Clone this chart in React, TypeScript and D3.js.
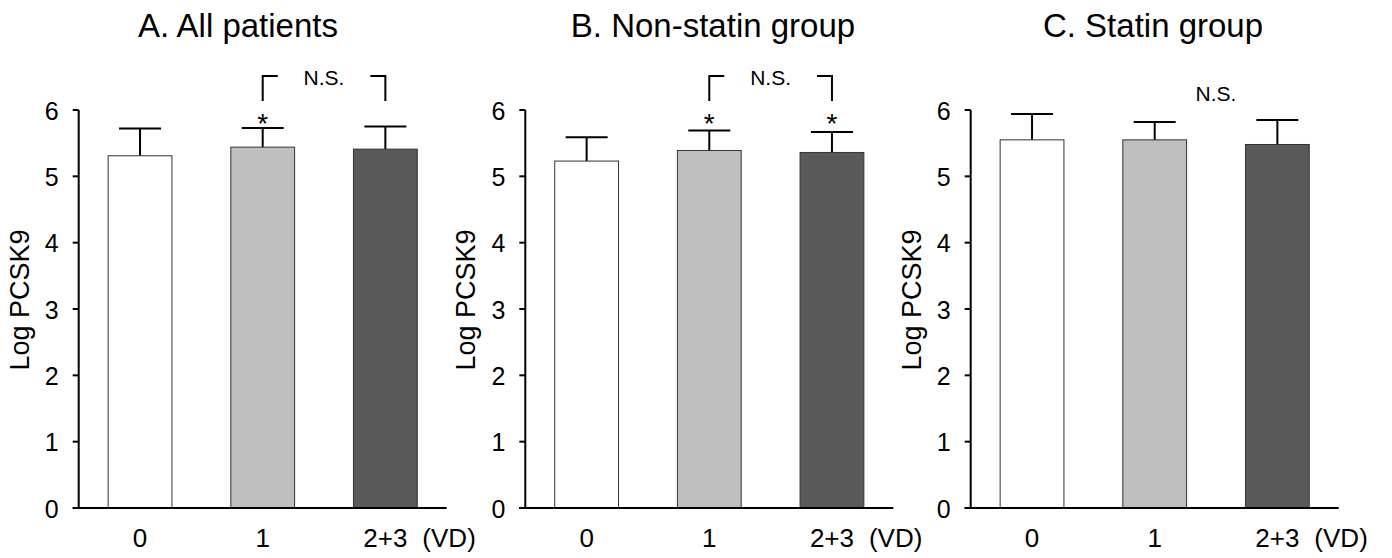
import React from "react";
import * as d3 from "d3";

const categories = ["0", "1", "2+3"];
const panelTitles = ["A. All patients", "B. Non-statin group", "C. Statin group"];
const meansA = [5.31, 5.44, 5.41];
const sdA = [0.41, 0.29, 0.34];
const meansB = [5.23, 5.39, 5.36];
const sdB = [0.36, 0.3, 0.31];
const meansC = [5.55, 5.55, 5.48];
const sdC = [0.39, 0.27, 0.37];
const starsA = [false, true, false];
const starsB = [false, true, true];
const starsC = [false, false, false];
const bracketA = true;
const bracketB = true;
const bracketC = false;
const yTicks = [0, 1, 2, 3, 4, 5, 6];
const fills = ["#ffffff", "#bfbfbf", "#595959"];

const panels = [
  { title: panelTitles[0], means: meansA, sd: sdA, stars: starsA, bracket: bracketA, ax: 78.7, titleX: 238 },
  { title: panelTitles[1], means: meansB, sd: sdB, stars: starsB, bracket: bracketB, ax: 525.3, titleX: 713 },
  { title: panelTitles[2], means: meansC, sd: sdC, stars: starsC, bracket: bracketC, ax: 970.7, titleX: 1153 },
];

const FONT = "Arial, 'Liberation Sans', Helvetica, sans-serif";
const W = 368;
const LABEL_OFFSET = -50;

function Panel({ p }: { p: (typeof panels)[number] }) {
  const y = d3.scaleLinear().domain([0, 6]).range([508, 110]);
  const x = d3.scaleBand<string>().domain(categories).range([0, W]).paddingInner(0.48).paddingOuter(0.24);
  const bw = x.bandwidth();
  const cx = (c: string) => (x(c) as number) + bw / 2;
  const capW = 21;
  return (
    <g transform={`translate(${p.ax},0)`}>
      <text x={p.titleX - p.ax} y={37} textAnchor="middle" fontSize={33} fontFamily={FONT}>
        {p.title}
      </text>
      <text
        transform={`translate(${LABEL_OFFSET},300) rotate(-90)`}
        textAnchor="middle"
        fontSize={27}
        fontFamily={FONT}
      >
        Log PCSK9
      </text>
      {categories.map((c, i) => (
        <g key={c}>
          <line x1={cx(c)} x2={cx(c)} y1={y(p.means[i])} y2={y(p.means[i] + p.sd[i])} stroke="#000" strokeWidth={2} />
          <line x1={cx(c) - capW} x2={cx(c) + capW} y1={y(p.means[i] + p.sd[i])} y2={y(p.means[i] + p.sd[i])} stroke="#000" strokeWidth={2} />
          <rect
            x={x(c)}
            y={y(p.means[i])}
            width={bw}
            height={y(0) - y(p.means[i])}
            fill={fills[i]}
            stroke="#333"
            strokeWidth={1}
          />
          {p.stars[i] && (
            <text x={cx(c)} y={133} textAnchor="middle" fontSize={28} fontFamily={FONT}>
              *
            </text>
          )}
        </g>
      ))}
      <line x1={0} x2={0} y1={y(6)} y2={y(0)} stroke="#000" strokeWidth={2} />
      {yTicks.map((t) => (
        <g key={t}>
          <line x1={-6} x2={0} y1={y(t)} y2={y(t)} stroke="#000" strokeWidth={2} />
          <text x={-20} y={y(t)} dy="0.38em" textAnchor="end" fontSize={25} fontFamily={FONT}>
            {t}
          </text>
        </g>
      ))}
      <line x1={-6} x2={W} y1={y(0)} y2={y(0)} stroke="#000" strokeWidth={2} />
      {categories.map((c, i) => (
        <g key={"l" + c}>
          <text x={cx(c)} y={547} textAnchor="middle" fontSize={26} fontFamily={FONT}>
            {c}
          </text>
          {i === 2 && (
            <text x={cx(c) + 37} y={547} textAnchor="start" fontSize={26} fontFamily={FONT}>
              (VD)
            </text>
          )}
        </g>
      ))}
      {p.bracket ? (
        <g>
          <path
            d={`M${cx(categories[1])},101V76H${cx(categories[1]) + 15}`}
            fill="none"
            stroke="#000"
            strokeWidth={2}
          />
          <path
            d={`M${cx(categories[2]) - 15},76H${cx(categories[2])}V101`}
            fill="none"
            stroke="#000"
            strokeWidth={2}
          />
          <text
            x={(cx(categories[1]) + cx(categories[2])) / 2}
            y={85}
            textAnchor="middle"
            fontSize={21}
            fontFamily={FONT}
          >
            N.S.
          </text>
        </g>
      ) : (
        <text
          x={(cx(categories[1]) + cx(categories[2])) / 2}
          y={101}
          textAnchor="middle"
          fontSize={21}
          fontFamily={FONT}
        >
          N.S.
        </text>
      )}
    </g>
  );
}

export default function App() {
  return (
    <svg
      width={1392}
      height={558}
      style={{ position: "absolute", left: 0, top: 0, background: "#fff" }}
    >
      <rect width={1392} height={558} fill="#fff" />
      {panels.map((p, i) => (
        <Panel key={i} p={p} />
      ))}
    </svg>
  );
}
